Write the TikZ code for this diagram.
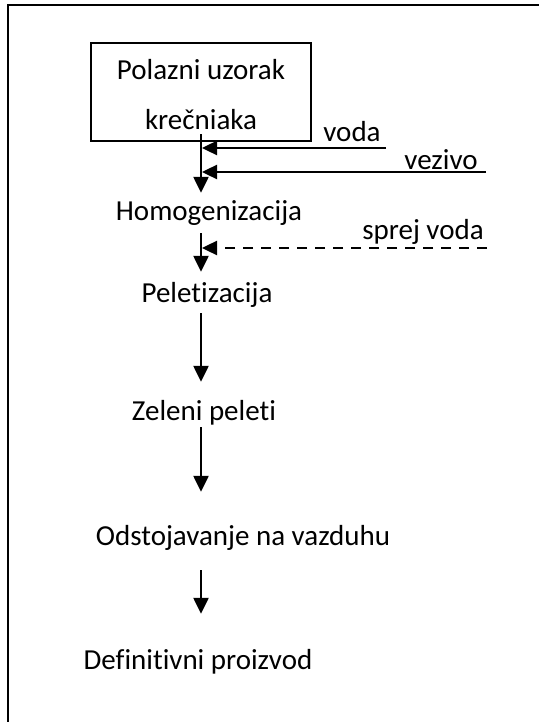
\documentclass[tikz,border=0pt]{standalone}
\usepackage{fontspec}
\setmainfont{Carlito}[RawFeature={-liga}]
\usetikzlibrary{arrows.meta}
\begin{document}
\begin{tikzpicture}[x=1pt,y=-1pt,
  txt/.style={font=\fontsize{29}{35}\selectfont, inner sep=0pt, text height=20pt, text depth=7pt, anchor=base},
  flow/.style={line width=2.4pt, -{Triangle[length=16pt,width=15pt]}},
  feed/.style={line width=2.4pt, -{Triangle[length=15pt,width=14pt]}},
  frame/.style={line width=2.2pt},
  boxed/.style={draw, line width=2.2pt, inner sep=0pt}]
\useasboundingbox (0,0) rectangle (538,722);
\draw[frame] (8,723) -- (8,5) -- (539,5);

% start box
\node[boxed, minimum width=220pt, minimum height=98pt] (box) at (201,92) {};
\node[txt] (box1) at (201,80) {Polazni uzorak};
\node[txt] (box2) at (201,130) {krečniaka};

% process steps
\node[txt] (homo) at (209,220) {Homogenizacija};
\node[txt] (pel) at (207,302) {Peletizacija};
\node[txt] (zel) at (204,420) {Zeleni peleti};
\node[txt] (ods) at (243,545) {Odstojavanje na vazduhu};
\node[txt] (def) at (198,669) {Definitivni proizvod};

% feed labels
\node[txt] (voda) at (352,142) {voda};
\node[txt] (vez) at (441,170) {vezivo};
\node[txt] (sprej) at (423,239) {sprej voda};

% feed line ends
\coordinate (vodaE) at (386,148);
\coordinate (vezE) at (486,172);
\coordinate (sprejE) at (487,248);

% main flow
\draw[flow, shorten <=-8pt, shorten >=7pt] (box.south) -- (box.south |- homo.north);
\draw[flow, shorten <=6pt, shorten >=10pt] (box.south |- homo.south) -- (box.south |- pel.north);
\draw[flow, shorten <=4pt, shorten >=18pt] (box.south |- pel.south) -- (box.south |- zel.north);
\draw[flow, shorten <=0pt, shorten >=33pt] (box.south |- zel.south) -- (box.south |- ods.north);
\draw[flow, shorten <=18pt, shorten >=35pt] (box.south |- ods.south) -- (box.south |- def.north);

% feeds
\draw[feed, shorten >=1pt] (vodaE) -- (vodaE -| box.south);
\draw[feed, shorten >=1pt] (vezE) -- (vezE -| box.south);
\draw[feed, shorten >=1pt, dash pattern=on 10pt off 8pt] (sprejE) -- (sprejE -| box.south);
\end{tikzpicture}
\end{document}
